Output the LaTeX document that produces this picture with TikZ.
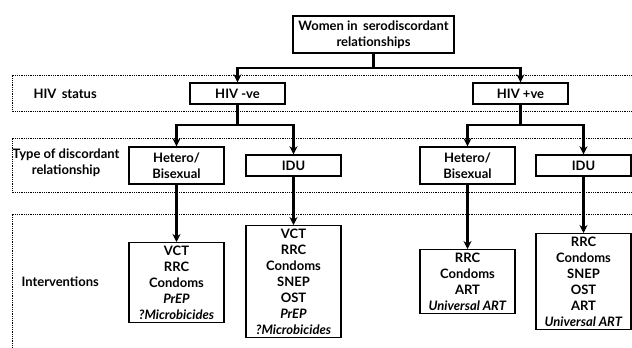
\documentclass[tikz,border=0pt]{standalone}
\usepackage{fontspec}
\setmainfont{Lato}
\usetikzlibrary{arrows.meta}
\begin{document}
\begin{tikzpicture}[x=1pt,y=-1pt,>={Stealth[length=8pt,width=8pt]},
    font=\bfseries\fontsize{13}{16}\selectfont,
    box/.style={draw,line width=1.4pt,minimum width=95pt,inner sep=3pt,align=center},
    link/.style={line width=2.2pt},
    band/.style={densely dotted,line width=.8pt}]
            \useasboundingbox (0,0) rectangle (632,348);
            \clip (0,0) rectangle (632,348);
            % bands
            \draw[band] (700,75) -- (12,75) -- (12,111) -- (700,111);
            \draw[band] (700,138) -- (12,138) -- (12,192) -- (700,192);
            \draw[band] (700,214) -- (12,214) -- (12,400);
            \node[anchor=west] (lstat) at (30,94) {HIV\, status};
            \node[align=center] (ltype) at (66,163) {Type of discordant\\relationship};
            \node[anchor=west] (lint) at (18,282) {Interventions};
            % boxes
            \node[box,minimum width=161pt,minimum height=37pt] (women) at (373.5,34.5) {Women in\, serodiscordant\\relationships};
            \node[box,minimum height=21pt] (neg) at (237.5,93.5) {HIV -ve};
            \node[box,minimum height=21pt] (pos) at (520.5,93.5) {HIV +ve};
            \node[box,minimum height=37pt] (hneg) at (176.5,165.5) {Hetero/\\Bisexual};
            \node[box,minimum height=21pt] (ineg) at (293.5,165.5) {IDU};
            \node[box,minimum height=37pt] (hpos) at (467.5,165.5) {Hetero/\\Bisexual};
            \node[box,minimum height=21pt] (ipos) at (583.5,165.5) {IDU};
            \node[box,anchor=north] (vhneg) at (176.5,242) {VCT\\RRC\\Condoms\\\textit{PrEP}\\\textit{?Microbicides}};
            \node[box,anchor=north] (vineg) at (293.5,225) {VCT\\RRC\\Condoms\\SNEP\\OST\\\textit{PrEP}\\\textit{?Microbicides}};
            \node[box,anchor=north] (vhpos) at (467.5,249) {RRC\\Condoms\\ART\\\textit{Universal ART}};
            \node[box,anchor=north] (vipos) at (583.5,233) {RRC\\Condoms\\SNEP\\OST\\ART\\\textit{Universal ART}};
            % connectors
            \coordinate (j0) at (373.5,68);
            \coordinate (j1) at (237.5,125);
            \coordinate (j2) at (520.5,125);
            \draw[link] (women) -- (j0);
            \draw[link,->] (j0) -| (neg);
            \draw[link,->] (j0) -| (pos);
            \draw[link] (neg) -- (j1);
            \draw[link,->] (j1) -| (hneg);
            \draw[link,->] (j1) -| (ineg);
            \draw[link] (pos) -- (j2);
            \draw[link,->] (j2) -| (hpos);
            \draw[link,->] (j2) -| (ipos);
            \foreach \a/\b in {hneg/vhneg,ineg/vineg,hpos/vhpos,ipos/vipos}
            \draw[link,->] (\a) -- (\b);
        \end{tikzpicture}
\end{document}
